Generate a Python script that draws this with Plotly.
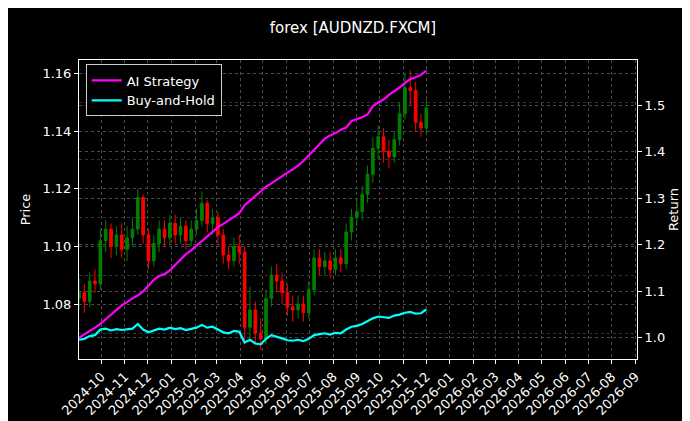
"""
AUDNZD weekly candles with AI strategy vs buy-and-hold return curves
"""

import pandas as pd
import plotly.graph_objects as go

weeks = pd.date_range("2024-09-02", periods=66, freq="7D")

first_open = 1.082
close = [1.084, 1.081, 1.088, 1.087, 1.102, 1.106, 1.100, 1.104, 1.099, 1.103,
         1.106, 1.117, 1.104, 1.095, 1.101, 1.106, 1.103, 1.108, 1.104, 1.107,
         1.102, 1.106, 1.109, 1.115, 1.108, 1.110, 1.104, 1.097, 1.095, 1.100,
         1.098, 1.072, 1.078, 1.070, 1.068, 1.082, 1.090, 1.088, 1.084, 1.079,
         1.078, 1.080, 1.077, 1.085, 1.096, 1.093, 1.095, 1.092, 1.096, 1.094,
         1.105, 1.110, 1.112, 1.118, 1.125, 1.134, 1.138, 1.133, 1.131, 1.137,
         1.146, 1.155, 1.154, 1.143, 1.141, 1.148]
high = [1.089, 1.087, 1.091, 1.092, 1.106, 1.109, 1.108, 1.107, 1.108, 1.107,
        1.110, 1.120, 1.118, 1.106, 1.104, 1.109, 1.109, 1.111, 1.111, 1.110,
        1.109, 1.109, 1.113, 1.119, 1.116, 1.113, 1.112, 1.106, 1.100, 1.103,
        1.104, 1.100, 1.086, 1.081, 1.075, 1.085, 1.093, 1.094, 1.091, 1.087,
        1.083, 1.083, 1.083, 1.088, 1.099, 1.099, 1.098, 1.098, 1.099, 1.099,
        1.108, 1.113, 1.116, 1.121, 1.128, 1.138, 1.142, 1.141, 1.137, 1.140,
        1.150, 1.160, 1.161, 1.157, 1.146, 1.151]
low = [1.078, 1.077, 1.079, 1.084, 1.085, 1.098, 1.096, 1.097, 1.096, 1.095,
       1.100, 1.104, 1.101, 1.092, 1.093, 1.098, 1.100, 1.101, 1.101, 1.101,
       1.099, 1.100, 1.104, 1.107, 1.105, 1.104, 1.101, 1.094, 1.092, 1.093,
       1.094, 1.066, 1.068, 1.066, 1.064, 1.066, 1.079, 1.084, 1.080, 1.076,
       1.074, 1.075, 1.074, 1.075, 1.083, 1.090, 1.090, 1.089, 1.090, 1.091,
       1.092, 1.102, 1.107, 1.109, 1.115, 1.122, 1.130, 1.129, 1.127, 1.129,
       1.135, 1.144, 1.149, 1.140, 1.138, 1.139]
opn = [first_open] + close[:-1]

ai_return = [1.000, 1.008, 1.015, 1.022, 1.030, 1.040, 1.050, 1.060, 1.070,
             1.077, 1.085, 1.091, 1.100, 1.112, 1.125, 1.133, 1.137, 1.145,
             1.157, 1.170, 1.180, 1.188, 1.198, 1.208, 1.220, 1.228, 1.238,
             1.245, 1.252, 1.260, 1.268, 1.285, 1.295, 1.305, 1.315, 1.325,
             1.332, 1.340, 1.348, 1.355, 1.362, 1.370, 1.380, 1.392, 1.405,
             1.418, 1.428, 1.435, 1.440, 1.447, 1.452, 1.466, 1.470, 1.474,
             1.480, 1.498, 1.506, 1.512, 1.522, 1.530, 1.538, 1.548, 1.556,
             1.560, 1.565, 1.574]
bh_return = [0.996, 0.998, 1.004, 1.006, 1.018, 1.020, 1.016, 1.019, 1.017,
             1.018, 1.020, 1.030, 1.018, 1.012, 1.016, 1.020, 1.018, 1.022,
             1.019, 1.021, 1.017, 1.020, 1.022, 1.028, 1.022, 1.024, 1.018,
             1.012, 1.010, 1.015, 1.013, 0.990, 0.996, 0.988, 0.986, 0.998,
             1.006, 1.003, 0.999, 0.995, 0.994, 0.996, 0.993, 0.998, 1.006,
             1.008, 1.010, 1.007, 1.011, 1.010, 1.018, 1.024, 1.026, 1.030,
             1.036, 1.042, 1.046, 1.044, 1.043, 1.048, 1.050, 1.054, 1.056,
             1.052, 1.053, 1.061]

month_ticks = pd.date_range("2024-10-01", "2026-09-01", freq="MS")

fig = go.Figure()
fig.add_trace(go.Candlestick(
    x=weeks, open=opn, high=high, low=low, close=close,
    increasing=dict(line=dict(color="#008000", width=1), fillcolor="#008000"),
    decreasing=dict(line=dict(color="#ff0000", width=1), fillcolor="#ff0000"),
    whiskerwidth=0, showlegend=False, name="Price",
))
fig.add_trace(go.Scatter(x=weeks, y=ai_return, yaxis="y2", name="AI Strategy",
                         mode="lines", line=dict(color="#ff00ff", width=2.2)))
fig.add_trace(go.Scatter(x=weeks, y=bh_return, yaxis="y2", name="Buy-and-Hold",
                         mode="lines", line=dict(color="#00ffff", width=2.2)))

axis_style = dict(showline=True, linecolor="white", linewidth=1, mirror=True,
                  ticks="outside", tickcolor="white", ticklen=4,
                  gridcolor="#4a4a4a", griddash="dot", gridwidth=1,
                  zeroline=False, tickfont=dict(color="white", size=13))

fig.update_layout(
    width=690, height=421,
    paper_bgcolor="black", plot_bgcolor="black",
    font=dict(family="DejaVu Sans", color="white", size=13),
    margin=dict(l=71, r=61, t=52, b=70),
    title=dict(text="forex [AUDNZD.FXCM]", x=0.5, xanchor="center", y=0.965,
               font=dict(size=15)),
    showlegend=True,
    legend=dict(x=0.012, y=0.985, xanchor="left", yanchor="top",
                bgcolor="black", bordercolor="#cccccc", borderwidth=1,
                font=dict(size=13)),
    xaxis=dict(axis_style, range=["2024-09-02", "2026-09-03"],
               tickvals=month_ticks, tickformat="%Y-%m", tickangle=-45,
               rangeslider=dict(visible=False)),
    yaxis=dict(axis_style, range=[1.061, 1.1646], dtick=0.02, tick0=1.08,
               tickformat=".2f",
               title=dict(text="Price", font=dict(size=13), standoff=8),
               minor=dict(dtick=0.01, showgrid=True, gridcolor="#333333",
                          griddash="dot")),
    yaxis2=dict(axis_style, overlaying="y", side="right",
                range=[0.9547, 1.597], dtick=0.1, tick0=1.0, tickformat=".1f",
                automargin=False,
                title=dict(text="Return", font=dict(size=13), standoff=4)),
)

fig.write_html("out.html")
